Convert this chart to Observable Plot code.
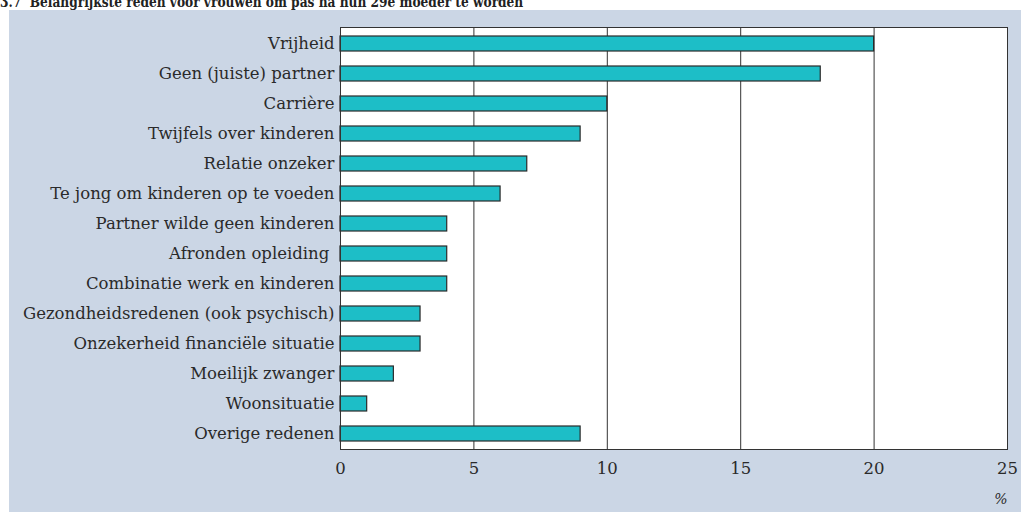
<!DOCTYPE html>
<html>
<head>
<meta charset="utf-8">
<script src="https://cdn.jsdelivr.net/npm/d3@7"></script>
<script src="https://cdn.jsdelivr.net/npm/@observablehq/plot@0.6"></script>
<style>
  html, body { margin: 0; padding: 0; background: #fff; width: 1021px; height: 512px; overflow: hidden; }
  #title { position: absolute; left: 0; top: -6px; font-family: "DejaVu Serif", serif; font-weight: bold; font-size: 14px; line-height: 16px; color: #222; white-space: nowrap; transform-origin: left top; }
  #panel { position: absolute; left: 9px; top: 10px; width: 1012px; height: 502px; background: #cbd6e5; }
</style>
</head>
<body>
<div id="title">3.7&nbsp;&nbsp;Belangrijkste reden voor vrouwen om pas na hun 29e moeder te worden</div>
<div id="panel"></div>
<script>
const categories = [
  "Vrijheid",
  "Geen (juiste) partner",
  "Carrière",
  "Twijfels over kinderen",
  "Relatie onzeker",
  "Te jong om kinderen op te voeden",
  "Partner wilde geen kinderen",
  "Afronden opleiding ",
  "Combinatie werk en kinderen",
  "Gezondheidsredenen (ook psychisch)",
  "Onzekerheid financiële situatie",
  "Moeilijk zwanger",
  "Woonsituatie",
  "Overige redenen"
];
const values = [20, 18, 10, 9, 7, 6, 4, 4, 4, 3, 3, 2, 1, 9];
const xTicks = [0, 5, 10, 15, 20, 25];
const gridTicks = [5, 10, 15, 20];
const unitLabel = "%";

const data = categories.map((c, i) => ({reason: c, value: values[i]}));
const font = "DejaVu Serif, serif";

// fit title width to the reference's printed width
const title = document.getElementById("title");
const tw = title.scrollWidth;
title.style.transform = `scaleX(${523 / tw})`;

const chart = Plot.plot({
  width: 1012,
  height: 502,
  marginLeft: 331,
  marginRight: 14,
  marginTop: 17,
  marginBottom: 63,
  style: {background: "transparent", fontFamily: font, fontSize: "16.5px", color: "#2a2a2a"},
  x: {domain: [0, 25], ticks: xTicks},
  y: {domain: categories, padding: 0.5, paddingOuter: 0.25},
  marks: [
    Plot.frame({fill: "white", stroke: "none"}),
    Plot.gridX(gridTicks, {stroke: "#333", strokeOpacity: 1, strokeWidth: 1}),
    Plot.barX(data, {y: "reason", x: "value", fill: "#1dbec7", stroke: "#2a2a2a", strokeWidth: 1.2}),
    Plot.frame({stroke: "#333", strokeWidth: 1}),
    Plot.axisX({ticks: xTicks, tickSize: 0, tickPadding: 13, label: null, fontSize: 16.5}),
    Plot.axisY({tickSize: 0, tickPadding: 6, label: null, fontSize: 16.5}),
    Plot.text([unitLabel], {frameAnchor: "bottom-right", dy: 54, text: d => d, fontStyle: "italic", fontSize: 14, fill: "#2a2a2a"})
  ]
});
document.getElementById("panel").appendChild(chart);
</script>
</body>
</html>
